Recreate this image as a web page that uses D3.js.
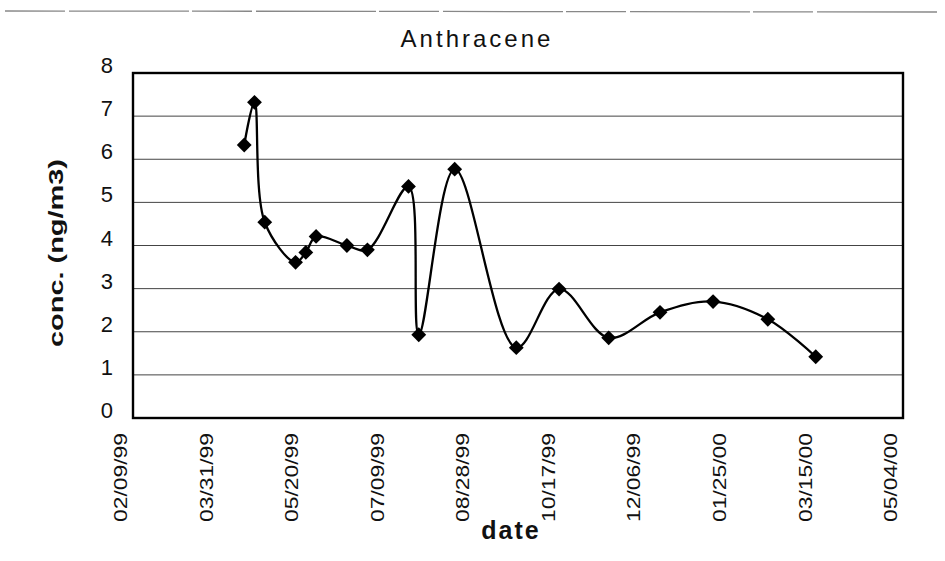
<!DOCTYPE html>
<html><head><meta charset="utf-8">
<script src="https://cdn.jsdelivr.net/npm/d3@7"></script>
<style>body{margin:0;background:#fff;} svg{display:block;} text{font-family:"Liberation Sans",Arial,sans-serif;fill:#111;}</style>
</head><body>
<svg id="c" width="945" height="561"></svg>
<script>
const dates = ["1999-04-15","1999-04-21","1999-04-27","1999-05-15","1999-05-21","1999-05-27","1999-06-14","1999-06-26","1999-07-20","1999-07-26","1999-08-16","1999-09-21","1999-10-16","1999-11-14","1999-12-14","2000-01-14","2000-02-15","2000-03-14"];
const values = [6.33,7.32,4.54,3.61,3.84,4.21,4.00,3.90,5.37,1.93,5.77,1.63,2.99,1.86,2.45,2.70,2.29,1.42];
const xTickLabels = ["02/09/99","03/31/99","05/20/99","07/09/99","08/28/99","10/17/99","12/06/99","01/25/00","03/15/00","05/04/00"];
const yTicks = [0,1,2,3,4,5,6,7,8];
const title = "Anthracene";
const xTitle = "date";
const yTitle = "conc. (ng/m3)";

const parse = d3.timeParse("%Y-%m-%d");
const tickParse = d3.timeParse("%m/%d/%y");
const data = dates.map((d,i)=>({date:parse(d), v:values[i]}));
const tickDates = xTickLabels.map(t=>tickParse(t));

const svg = d3.select("#c");
const L=133, R=903, T=73, B=418;
const x = d3.scaleTime().domain([tickDates[0], tickDates[tickDates.length-1]]).range([L,R]);
const y = d3.scaleLinear().domain([0,8]).range([B,T]);

// scan artifact line at top
svg.append("line").attr("x1",5).attr("x2",940).attr("y1",11).attr("y2",12)
  .attr("stroke","#888").attr("stroke-width",1.3).attr("stroke-dasharray","60,4,120,3");

// gridlines
svg.append("g").selectAll("line").data(yTicks.slice(1,-1)).join("line")
  .attr("x1",L).attr("x2",R).attr("y1",d=>y(d)).attr("y2",d=>y(d))
  .attr("stroke","#444").attr("stroke-width",1);

// y axis labels
const yAxis = d3.axisLeft(y).tickValues(yTicks).tickSize(0).tickPadding(20).tickFormat(d3.format("d"));
const gy = svg.append("g").attr("transform",`translate(${L},0)`).call(yAxis);
gy.select(".domain").remove();
gy.selectAll("text").style("font-size","22px").style("font-family","'Liberation Sans',Arial,sans-serif").attr("fill","#111")
  .attr("dy","-0.02em");

// x axis labels
const xAxis = d3.axisBottom(x).tickValues(tickDates).tickSize(0).tickFormat((d,i)=>xTickLabels[i]);
const gx = svg.append("g").attr("transform",`translate(0,${B})`).call(xAxis);
gx.select(".domain").remove();
gx.selectAll("text").style("font-size","19px").style("font-family","'Liberation Sans',Arial,sans-serif").attr("fill","#111")
  .attr("transform","rotate(-90)").attr("text-anchor","end").attr("x",-15).attr("y",-13).attr("dy","0.35em")
  .attr("textLength",89).attr("lengthAdjust","spacingAndGlyphs");

// plot border
svg.append("rect").attr("x",L).attr("y",T).attr("width",R-L).attr("height",B-T)
  .attr("fill","none").attr("stroke","#000").attr("stroke-width",2.4);

// line
const line = d3.line().x(d=>x(d.date)).y(d=>y(d.v)).curve(d3.curveCatmullRom.alpha(0.5));
svg.append("path").datum(data).attr("d",line).attr("fill","none").attr("stroke","#000").attr("stroke-width",2.3);

// markers
const sym = d3.symbol().type(d3.symbolDiamond2).size(140);
svg.append("g").selectAll("path").data(data).join("path")
  .attr("transform",d=>`translate(${x(d.date)},${y(d.v)})`).attr("d",sym).attr("fill","#000");

// titles
svg.append("text").attr("x",477).attr("y",47).attr("text-anchor","middle")
  .style("font-size","24px").style("letter-spacing","3px").text(title);
svg.append("text").attr("x",511).attr("y",539).attr("text-anchor","middle")
  .style("font-size","25px").style("font-weight","bold").style("letter-spacing","2px").text(xTitle);
svg.append("text").attr("transform","translate(63,253) rotate(-90)").attr("text-anchor","middle")
  .style("font-size","21px").style("font-weight","bold")
  .attr("textLength",188).attr("lengthAdjust","spacingAndGlyphs").text(yTitle);
</script>
</body></html>
